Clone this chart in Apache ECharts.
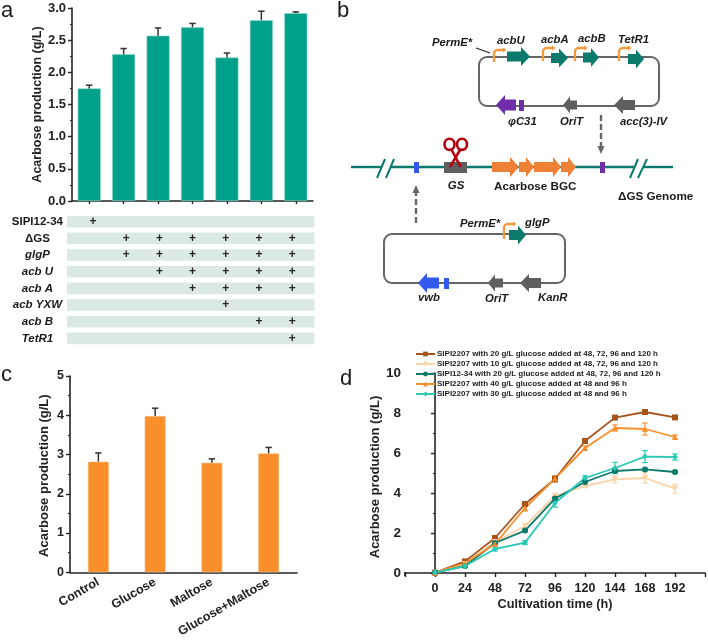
<!DOCTYPE html>
<html><head><meta charset="utf-8">
<style>html,body{margin:0;padding:0;background:#fff}#c{width:708px;height:640px}</style>
<script src="https://cdn.jsdelivr.net/npm/echarts@6/dist/echarts.min.js"></script>
</head><body><div id="c"></div>
<script>
const FONT='"Liberation Sans",Arial,sans-serif';
const INK='#222';
// Panel a
const aValues=[1.75,2.28,2.57,2.70,2.23,2.81,2.92];
const aErrors=[0.05,0.09,0.12,0.06,0.07,0.14,0.02];
const strainCols=['1','2','3','4','5','6','7'];
// Table under panel a
const rowNames=['SIPI12-34','ΔGS','glgP','acb U','acb A','acb YXW','acb B','TetR1'];
const rowItalic=[false,false,true,true,true,true,true,true];
const rowFlags=[
 [1,0,0,0,0,0,0],
 [0,1,1,1,1,1,1],
 [0,1,1,1,1,1,1],
 [0,0,1,1,1,1,1],
 [0,0,0,1,1,1,1],
 [0,0,0,0,1,0,0],
 [0,0,0,0,0,1,1],
 [0,0,0,0,0,0,1]];
// Panel c
const cCats=['Control','Glucose','Maltose','Glucose+Maltose'];
const cValues=[2.82,3.98,2.79,3.03];
const cErrors=[0.22,0.20,0.10,0.15];
// Panel d
const dTimes=[0,24,48,72,96,120,144,168,192];
const dNames=['SIPI2207 with 20 g/L glucose added at 48, 72, 96 and 120 h','SIPI2207 with 10 g/L glucose added at 48, 72, 96 and 120 h','SIPI12-34 with 20 g/L glucose added at 48, 72, 96 and 120 h','SIPI2207 with 40 g/L glucose added at 48 and 96 h','SIPI2207 with 30 g/L glucose added at 48 and 96 h'];
const dColors=['#a5551c','#fdd3a8','#0f7a6c','#f88f2e','#2ac9b5'];
const dSymbols=['rect','path://M0 0L10 0L5 10Z','circle','triangle','diamond'];
const d20=[0.02,0.58,1.75,3.45,4.70,6.60,7.77,8.05,7.78];
const d10=[0.02,0.45,1.55,2.35,3.85,4.35,4.68,4.75,4.22];
const d12=[0.02,0.35,1.50,2.12,3.72,4.55,5.10,5.18,5.05];
const d40=[0.02,0.50,1.45,3.25,4.72,6.25,7.25,7.20,6.80];
const d30=[0.02,0.35,1.20,1.52,3.50,4.75,5.25,5.82,5.80];
const e20=[0,0.06,0.08,0.08,0.15,0.08,0.06,0.06,0.06];
const e10=[0,0.04,0.10,0.08,0.06,0.08,0.18,0.25,0.22];
const e12=[0,0.04,0.06,0.06,0.08,0.08,0.08,0.06,0.05];
const e40=[0,0.04,0.10,0.15,0.15,0.10,0.15,0.30,0.10];
const e30=[0,0.04,0.10,0.10,0.20,0.12,0.28,0.30,0.15];
const dSeries=[d20,d10,d12,d40,d30], dErrs=[e20,e10,e12,e40,e30];

const axisBase=(size)=>({
  axisLine:{show:true,lineStyle:{color:INK,width:1.6}},
  axisTick:{show:true,length:4,lineStyle:{color:INK,width:1.4}},
  axisLabel:{color:INK,fontFamily:FONT,fontWeight:'bold',fontSize:size},
  splitLine:{show:false}
});
const minor={show:true,length:2,lineStyle:{color:INK,width:1}};
const title=(t,gap,size,pad)=>({name:t,nameLocation:'middle',nameGap:gap,nameTextStyle:{color:INK,fontFamily:FONT,fontWeight:'bold',fontSize:size,padding:pad||0}});

function errorSeries(xi,yi,data,color,capHalf,both,width){
  return {type:'custom',xAxisIndex:xi,yAxisIndex:yi,clip:false,silent:true,z:both?4:3,
    data:data,encode:{x:0,y:1},
    renderItem(p,api){
      const x=api.value(0),v=api.value(1),e=api.value(2);
      const top=api.coord([x,v+e]),mid=api.coord([x,v]),low=api.coord([x,v-e]);
      const st={stroke:color,lineWidth:width,fill:'none'};
      const kids=[
       {type:'line',shape:{x1:top[0],y1:both?low[1]:mid[1],x2:top[0],y2:top[1]},style:st},
       {type:'line',shape:{x1:top[0]-capHalf,y1:top[1],x2:top[0]+capHalf,y2:top[1]},style:st}];
      if(both)kids.push({type:'line',shape:{x1:top[0]-capHalf,y1:low[1],x2:top[0]+capHalf,y2:low[1]},style:st});
      return {type:'group',children:kids};
    }};
}

// ---- schematic helpers (panel b)
const TEAL='#0b7a6c',GRAY='#5f5f5f',ORANGE='#ee8135',PROM='#f59a3a',PURPLE='#6f2da8',BLUE='#3359f0',RED='#b3000c';
function arrow(x0,x1,y,body,head,headL,color){
  const s=x1>x0?1:-1,b=x1-s*headL;
  return {type:'polygon',z:5,shape:{points:[[x0,y-body/2],[b,y-body/2],[b,y-head/2],[x1,y],[b,y+head/2],[b,y+body/2],[x0,y+body/2]]},style:{fill:color}};
}
const rect=(x,y,w,h,c)=>({type:'rect',z:5,shape:{x,y,width:w,height:h},style:{fill:c}});
const line=(x1,y1,x2,y2,c,w,dash)=>({type:'line',z:4,shape:{x1,y1,x2,y2},style:{stroke:c,lineWidth:w,lineDash:dash||null}});
const frame=(x,y,w,h)=>({type:'rect',z:3,shape:{x,y,width:w,height:h,r:8},style:{fill:'none',stroke:'#666',lineWidth:2}});
function promoter(x,yb,yt,xe){
  return [{type:'polyline',z:6,shape:{points:[[x,yb],[x,yt+3],[x+1,yt+1],[x+3,yt],[xe,yt]]},style:{stroke:PROM,lineWidth:2.3,fill:'none'}},
   {type:'polygon',z:6,shape:{points:[[xe,yt-2.6],[xe+3.5,yt],[xe,yt+2.6]]},style:{fill:PROM}}];
}
const txt=(s,x,y,font,align,color)=>({type:'text',z:7,style:{text:s,x,y,font:font,fill:color||'#1a1a1a',textAlign:align||'left',textVerticalAlign:'middle'}});
const BI='italic bold 11.3px "Liberation Sans"',B='bold 11.7px "Liberation Sans"';
const schematic=[
  txt('a',1,11,'22px "Liberation Sans"'),txt('b',337,11,'22px "Liberation Sans"'),
  txt('c',1,375,'22px "Liberation Sans"'),txt('d',340,379,'22px "Liberation Sans"'),
  // upper plasmid
  frame(479,57,180,49),
  ...promoter(494,62,50,503),arrow(507,530,56.5,10,19,9,TEAL),
  ...promoter(543,61,48,552),arrow(551,568,58,10,19,9,TEAL),
  ...promoter(575,61,48,584),arrow(583,599,57.5,10,19,8,TEAL),
  ...promoter(619,61,48,628),arrow(628,644,59,10,19,8,TEAL),
  arrow(516,496,105,11,20,9,PURPLE),rect(519,100,5,11,PURPLE),
  arrow(577,563,105,9,17,7,GRAY),arrow(635,614,105,10,18,9,GRAY),
  line(476,48,490,53,'#222',1.2),
  txt('PermE*',432,43,BI),txt('acbU',497,41,BI),txt('acbA',541,40,BI),txt('acbB',578,39,BI),txt('TetR1',618,40,BI),
  txt('φC31',508,122,BI),txt('OriT',560,122,BI),txt('acc(3)-IV',620,122,BI),
  line(601,115,601,146,'#666',2.4,[6,3]),
  {type:'polygon',z:5,shape:{points:[[597.5,146],[604.5,146],[601,154]]},style:{fill:'#666'}},
  // genome
  line(351,167,381,167,TEAL,2.4),line(390,167,634,167,TEAL,2.4),line(643,167,673,167,TEAL,2.4),
  line(377,178,385,159,TEAL,2),line(386,178,394,159,TEAL,2),line(630,178,638,159,TEAL,2),line(638,178,647,159,TEAL,2),
  rect(414,162,5,11,BLUE),rect(444,162,23,11,GRAY),rect(600,162,5,11,PURPLE),
  arrow(492,519,167,10,20,9,ORANGE),arrow(519,534,167,10,20,8,ORANGE),arrow(534,561,167,10,20,8,ORANGE),arrow(561,576,167,10,20,8,ORANGE),
  {type:'ellipse',z:6,shape:{cx:449.5,cy:144.3,rx:5,ry:5.6},style:{fill:'none',stroke:RED,lineWidth:2.6}},
  {type:'ellipse',z:6,shape:{cx:462,cy:144.3,rx:5,ry:5.6},style:{fill:'none',stroke:RED,lineWidth:2.6}},
  {type:'line',z:6,shape:{x1:451.7,y1:150,x2:460.7,y2:167},style:{stroke:RED,lineWidth:2.6}},
  {type:'line',z:6,shape:{x1:460,y1:150,x2:450,y2:167},style:{stroke:RED,lineWidth:2.6}},
  txt('GS',456,186,'italic bold 11.5px "Liberation Sans"','center'),
  txt('Acarbose BGC',494,186.5,B),txt('ΔGS Genome',618,197,B),
  line(416,223,416,193,'#666',2.4,[6,3]),
  {type:'polygon',z:5,shape:{points:[[412.5,193],[419.5,193],[416,185]]},style:{fill:'#666'}},
  // lower plasmid
  frame(384,234,181,49),
  ...promoter(504,239,224,513),arrow(509,526,235,10,19,8,TEAL),
  arrow(439,418,283,11,20,9,BLUE),rect(444,278,5,11,BLUE),
  arrow(503,488,283,9,17,7,GRAY),arrow(541,520,283,10,18,9,GRAY),
  txt('PermE*',460,223.5,BI),txt('glgP',525,223,BI),
  txt('vwb',418,298,BI),txt('OriT',485,298.5,BI),txt('KanR',538,298,BI)
];

const series=[
  {type:'bar',xAxisIndex:0,yAxisIndex:0,data:aValues,barWidth:23,itemStyle:{color:'#00a08a',borderColor:'#8fd6cb',borderWidth:0.6},silent:true},
  errorSeries(0,0,aValues.map((v,i)=>[i,v,aErrors[i]]),'#333',3.2,false,1.5),
  {type:'custom',xAxisIndex:1,yAxisIndex:1,clip:false,silent:true,data:rowNames.map((n,i)=>[0,i]),encode:{x:0,y:1},
    renderItem(p,api){
      const y=api.coord([0,api.value(1)])[1],cs=p.coordSys;
      return {type:'rect',shape:{x:cs.x-9.4,y:y-5.8,width:cs.width+15,height:11.6},style:{fill:'#dbe9e6'}};
    }},
  {type:'custom',xAxisIndex:1,yAxisIndex:1,clip:false,silent:true,z:5,
    data:rowFlags.flatMap((r,ri)=>r.map((f,ci)=>f?[ci,ri]:null).filter(Boolean)),encode:{x:0,y:1},
    renderItem(p,api){
      const c=api.coord([api.value(0),api.value(1)]);
      return {type:'text',style:{text:'+',x:c[0],y:c[1],fill:'#222',font:'bold 12px "Liberation Sans"',textAlign:'center',textVerticalAlign:'middle'}};
    }},
  {type:'bar',xAxisIndex:2,yAxisIndex:2,data:cValues,barWidth:21,itemStyle:{color:'#f98f2b',borderColor:'#fcc68f',borderWidth:0.6},silent:true},
  errorSeries(2,2,cValues.map((v,i)=>[i,v,cErrors[i]]),'#333',3.2,false,1.5)
];
dNames.forEach((n,i)=>{
  series.push(errorSeries(3,3,dTimes.map((t,k)=>[t,dSeries[i][k],dErrs[i][k]]),dColors[i],2.8,true,1.2));
  series.push({type:'line',name:n,xAxisIndex:3,yAxisIndex:3,data:dTimes.map((t,k)=>[t,dSeries[i][k]]),
    symbol:dSymbols[i],symbolSize:6,showSymbol:true,z:5,silent:true,
    lineStyle:{color:dColors[i],width:1.8},itemStyle:{color:dColors[i]}});
});
const chart=echarts.init(document.getElementById('c'),null,{renderer:'canvas'});
chart.setOption({
  animation:false,backgroundColor:'#fff',textStyle:{fontFamily:FONT},
  grid:[
    {left:72,top:8,width:241,height:193,containLabel:false},
    {left:76.4,top:213.4,width:232.4,height:133.3},
    {left:70,top:376,width:227,height:198},
    {left:405,top:373,width:301,height:200}
  ],
  xAxis:[
    Object.assign(axisBase(12),{type:'category',gridIndex:0,data:strainCols,axisLabel:{show:false},axisTick:{show:true,length:3,alignWithLabel:true,lineStyle:{color:INK,width:1.4}}}),
    {type:'category',gridIndex:1,data:strainCols,show:false},
    Object.assign(axisBase(12.5),{type:'category',gridIndex:2,data:cCats,axisTick:{show:false},axisLabel:{color:INK,fontFamily:FONT,fontWeight:'bold',fontSize:12.5,rotate:30,margin:9,interval:0}}),
    Object.assign(axisBase(13),title('Cultivation time (h)',23,12.7),{type:'value',gridIndex:3,min:-24,max:216,interval:24,offset:2,
      axisLabel:{color:INK,fontFamily:FONT,fontWeight:'bold',fontSize:12.5,margin:7,formatter:v=>(v<0||v>192)?'':String(v)}})
  ],
  yAxis:[
    Object.assign(axisBase(13),title('Acarbose production (g/L)',28,12.5),{type:'value',gridIndex:0,min:0,max:3,interval:0.5,minorTick:Object.assign({splitNumber:2},minor),axisLabel:{color:INK,fontFamily:FONT,fontWeight:'bold',fontSize:13,margin:6,formatter:v=>v.toFixed(1)}}),
    {type:'category',gridIndex:1,inverse:true,data:rowNames,axisLine:{show:false},axisTick:{show:false},splitLine:{show:false},
     axisLabel:{interval:0,align:'center',margin:39,formatter:(v,i)=>`{${rowItalic[i]?'i':'n'}|${v}}`,
       rich:{i:{fontFamily:FONT,fontWeight:'bold',fontStyle:'italic',fontSize:11.5,color:'#1a1a1a'},n:{fontFamily:FONT,fontWeight:'bold',fontSize:11.5,color:'#1a1a1a'}}}},
    Object.assign(axisBase(13),title('Acarbose production (g/L)',19,13,[0,3,0,0]),{type:'value',gridIndex:2,min:0,max:5,interval:1,minorTick:Object.assign({splitNumber:2},minor),axisLabel:{color:INK,fontFamily:FONT,fontWeight:'bold',fontSize:12.5,margin:6}}),
    Object.assign(axisBase(14),title('Acarbose production (g/L)',18,13,[0,8,0,0]),{type:'value',gridIndex:3,min:0,max:10,interval:2,minorTick:Object.assign({splitNumber:2},minor),axisLabel:{color:INK,fontFamily:FONT,fontWeight:'bold',fontSize:13.5,margin:4}})
  ],
  legend:{show:true,data:dNames,orient:'vertical',left:415,top:350,padding:0,itemWidth:19,itemHeight:6,itemGap:2,
    textStyle:{color:'#222',fontFamily:FONT,fontWeight:'bold',fontSize:8,padding:[0,0,0,-3],lineHeight:8},selectedMode:false},
  graphic:{elements:[...schematic,line(405,572,405,576,INK,1.6)]},
  series
});
</script></body></html>
